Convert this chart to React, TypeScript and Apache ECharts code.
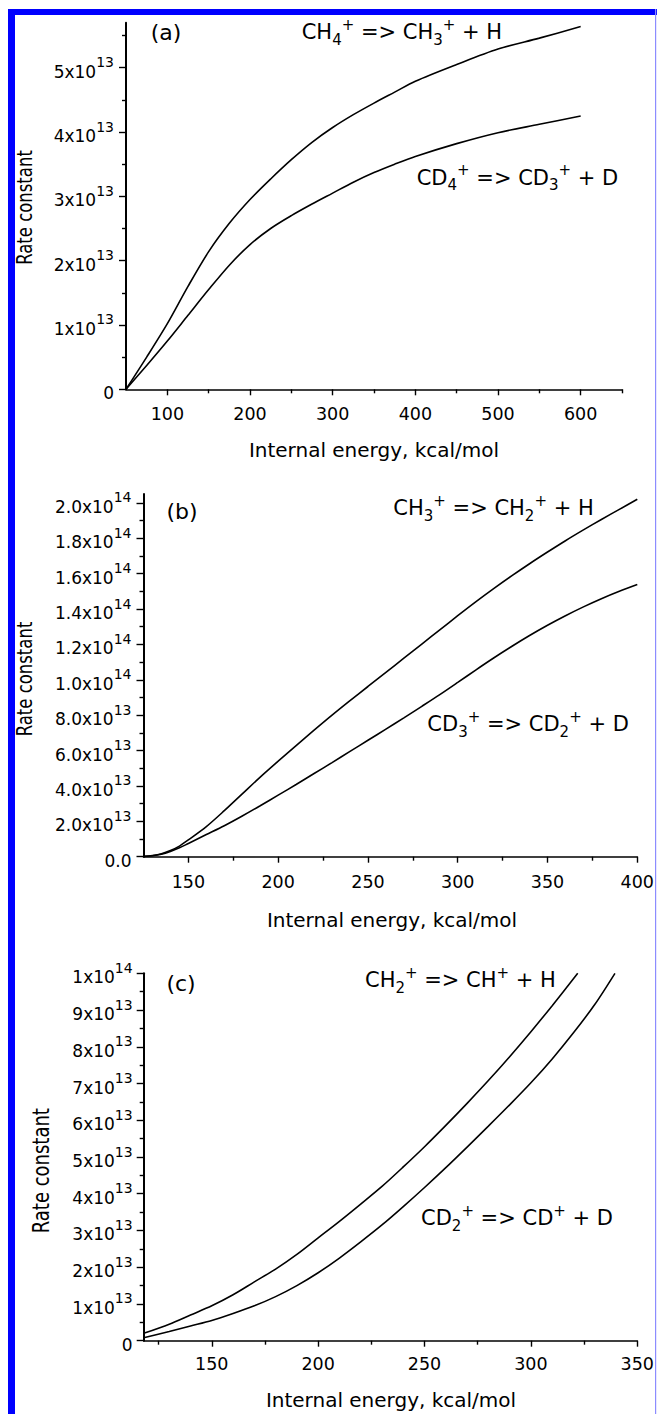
import React, { useEffect, useRef } from 'react';
import * as echarts from 'echarts';

// ---------- Panel (a) ----------
const energyA = [50, 75, 100, 125, 150, 175, 200, 225, 250, 275, 300, 325, 350, 375, 400, 450, 500, 550, 600];
const rateCH4 = [0, 0.5e13, 1.02e13, 1.6e13, 2.14e13, 2.58e13, 2.95e13, 3.27e13, 3.57e13, 3.84e13, 4.07e13, 4.27e13, 4.45e13, 4.62e13, 4.79e13, 5.05e13, 5.29e13, 5.46e13, 5.64e13];
const rateCD4 = [0, 0.37e13, 0.75e13, 1.15e13, 1.55e13, 1.93e13, 2.25e13, 2.5e13, 2.7e13, 2.88e13, 3.05e13, 3.22e13, 3.37e13, 3.5e13, 3.62e13, 3.82e13, 3.99e13, 4.12e13, 4.25e13];
const xTicksA = [100, 200, 300, 400, 500, 600];
const xMinorA = [150, 250, 350, 450, 550, 650];
const yTicksA = [0, 1e13, 2e13, 3e13, 4e13, 5e13];
const yLabelsA = ['0', '1x10^13', '2x10^13', '3x10^13', '4x10^13', '5x10^13'];
const yMinorA = [0.5e13, 1.5e13, 2.5e13, 3.5e13, 4.5e13, 5.5e13];

// ---------- Panel (b) ----------
const energyB = [125, 130, 135, 140, 145, 150, 160, 170, 180, 190, 200, 210, 220, 230, 240, 250, 260, 270, 280, 290, 300, 310, 320, 330, 340, 350, 360, 370, 380, 390, 400];
const rateCH3 = [0.02e13, 0.07e13, 0.17e13, 0.35e13, 0.6e13, 0.95e13, 1.7e13, 2.6e13, 3.55e13, 4.5e13, 5.4e13, 6.28e13, 7.15e13, 8.0e13, 8.82e13, 9.62e13, 10.42e13, 11.22e13, 12.02e13, 12.82e13, 13.62e13, 14.4e13, 15.15e13, 15.87e13, 16.56e13, 17.22e13, 17.86e13, 18.47e13, 19.06e13, 19.63e13, 20.2e13];
const rateCD3 = [0.01e13, 0.05e13, 0.14e13, 0.3e13, 0.5e13, 0.75e13, 1.25e13, 1.75e13, 2.3e13, 2.88e13, 3.48e13, 4.08e13, 4.7e13, 5.32e13, 5.95e13, 6.58e13, 7.21e13, 7.85e13, 8.5e13, 9.16e13, 9.85e13, 10.55e13, 11.23e13, 11.88e13, 12.5e13, 13.08e13, 13.62e13, 14.12e13, 14.58e13, 15.0e13, 15.38e13];
const xTicksB = [150, 200, 250, 300, 350, 400];
const xMinorB = [175, 225, 275, 325, 375];
const yTicksB = [0, 2e13, 4e13, 6e13, 8e13, 1.0e14, 1.2e14, 1.4e14, 1.6e14, 1.8e14, 2.0e14];
const yLabelsB = ['0.0', '2.0x10^13', '4.0x10^13', '6.0x10^13', '8.0x10^13', '1.0x10^14', '1.2x10^14', '1.4x10^14', '1.6x10^14', '1.8x10^14', '2.0x10^14'];
const yMinorB = [1e13, 3e13, 5e13, 7e13, 9e13, 1.1e14, 1.3e14, 1.5e14, 1.7e14, 1.9e14];

// ---------- Panel (c) ----------
const energyC1 = [118, 130, 140, 150, 160, 170, 180, 190, 200, 210, 220, 230, 240, 250, 260, 270, 280, 290, 300, 310, 322];
const rateCH2 = [0.2e13, 0.45e13, 0.7e13, 0.95e13, 1.25e13, 1.6e13, 1.95e13, 2.35e13, 2.8e13, 3.25e13, 3.72e13, 4.2e13, 4.73e13, 5.28e13, 5.86e13, 6.46e13, 7.08e13, 7.73e13, 8.41e13, 9.12e13, 10.0e13];
const energyC2 = [118, 130, 140, 150, 160, 170, 180, 190, 200, 210, 220, 230, 240, 250, 260, 270, 280, 290, 300, 310, 320, 330, 339.5];
const rateCD2 = [0.08e13, 0.25e13, 0.4e13, 0.55e13, 0.74e13, 0.95e13, 1.2e13, 1.5e13, 1.85e13, 2.25e13, 2.69e13, 3.15e13, 3.65e13, 4.17e13, 4.71e13, 5.27e13, 5.84e13, 6.42e13, 7.02e13, 7.67e13, 8.38e13, 9.15e13, 10.0e13];
const xTicksC = [150, 200, 250, 300, 350];
const xMinorC = [125, 175, 225, 275, 325];
const yTicksC = [0, 1e13, 2e13, 3e13, 4e13, 5e13, 6e13, 7e13, 8e13, 9e13, 1e14];
const yLabelsC = ['0', '1x10^13', '2x10^13', '3x10^13', '4x10^13', '5x10^13', '6x10^13', '7x10^13', '8x10^13', '9x10^13', '1x10^14'];
const yMinorC = [0.5e13, 1.5e13, 2.5e13, 3.5e13, 4.5e13, 5.5e13, 6.5e13, 7.5e13, 8.5e13, 9.5e13];

const FONT = '"DejaVu Sans", "Liberation Sans", Arial, sans-serif';
const BLACK = '#000';

function toRich(label: string) {
  const [m, e] = label.split('^');
  return e ? `{m|${m}}{e|${e}}` : `{m|${m}}`;
}

const tickRich = {
  m: { fontSize: 17, fontFamily: FONT, color: BLACK, verticalAlign: 'bottom', lineHeight: 25 },
  e: { fontSize: 14, fontFamily: FONT, color: BLACK, verticalAlign: 'top', lineHeight: 15 },
};

function pairs(xs: number[], ys: number[]) {
  return xs.map((x, i) => [x, ys[i]]);
}

function xAxes(grid: number, min: number, max: number, ticks: number[], minor: number[], margin: number) {
  return [
    {
      type: 'value', gridIndex: grid, min, max, position: 'bottom',
      axisLine: { show: true, onZero: false, lineStyle: { color: BLACK, width: 1.6 } },
      axisTick: { show: true, inside: false, length: 6, customValues: ticks, lineStyle: { color: BLACK, width: 1.4 } },
      axisLabel: { show: true, customValues: ticks, margin, color: BLACK, fontFamily: FONT, fontSize: 17.5, formatter: (v: number) => String(v) },
      splitLine: { show: false },
    },
    {
      type: 'value', gridIndex: grid, min, max, position: 'bottom',
      axisLine: { show: false, onZero: false },
      axisTick: { show: true, inside: false, length: 4, customValues: minor, lineStyle: { color: BLACK, width: 1.4 } },
      axisLabel: { show: false },
      splitLine: { show: false },
    },
  ];
}

function yAxes(grid: number, max: number, ticks: number[], labels: string[], minor: number[], margin: number) {
  return [
    {
      type: 'value', gridIndex: grid, min: 0, max, position: 'left',
      axisLine: { show: true, onZero: false, lineStyle: { color: BLACK, width: 2 } },
      axisTick: { show: true, inside: false, length: 7, customValues: ticks, lineStyle: { color: BLACK, width: 1.4 } },
      axisLabel: {
        show: true, customValues: ticks, margin,
        formatter: (v: number) => {
          const i = ticks.findIndex((t) => Math.abs(t - v) <= Math.abs(t) * 1e-6 + 1);
          return toRich(i >= 0 ? labels[i] : '');
        },
        rich: tickRich,
      },
      splitLine: { show: false },
    },
    {
      type: 'value', gridIndex: grid, min: 0, max, position: 'left',
      axisLine: { show: false, onZero: false },
      axisTick: { show: true, inside: false, length: 4, customValues: minor, lineStyle: { color: BLACK, width: 1.4 } },
      axisLabel: { show: false },
      splitLine: { show: false },
    },
  ];
}

const reactRich = {
  b: { fontSize: 21, fontFamily: FONT, fill: BLACK, verticalAlign: 'middle', lineHeight: 30 },
  sub: { fontSize: 15, fontFamily: FONT, fill: BLACK, verticalAlign: 'bottom', lineHeight: 16 },
  sup: { fontSize: 15, fontFamily: FONT, fill: BLACK, verticalAlign: 'top', lineHeight: 16 },
};

function reaction(x: number, y: number, text: string) {
  return {
    type: 'text', x, y, z: 10,
    style: { text, rich: reactRich, align: 'left', verticalAlign: 'middle', fill: BLACK, fontFamily: FONT, fontSize: 21 },
  };
}

function plainText(x: number, y: number, text: string, fontSize: number, extra: any = {}) {
  return {
    type: 'text', x, y, z: 10, ...extra,
    style: { text, fontSize, fontFamily: FONT, fill: BLACK, align: 'center', verticalAlign: 'middle' },
  };
}

export default function App() {
  const ref = useRef<HTMLDivElement>(null);

  useEffect(() => {
    if (!ref.current) return;
    const chart = echarts.init(ref.current, null, { renderer: 'svg' });

    const lineStyle = { color: BLACK, width: 1.6 };
    const series = [
      { name: 'CH4+', data: pairs(energyA, rateCH4), xAxisIndex: 0, yAxisIndex: 0 },
      { name: 'CD4+', data: pairs(energyA, rateCD4), xAxisIndex: 0, yAxisIndex: 0 },
      { name: 'CH3+', data: pairs(energyB, rateCH3), xAxisIndex: 2, yAxisIndex: 2 },
      { name: 'CD3+', data: pairs(energyB, rateCD3), xAxisIndex: 2, yAxisIndex: 2 },
      { name: 'CH2+', data: pairs(energyC1, rateCH2), xAxisIndex: 4, yAxisIndex: 4 },
      { name: 'CD2+', data: pairs(energyC2, rateCD2), xAxisIndex: 4, yAxisIndex: 4 },
    ].map((s) => ({
      ...s, type: 'line', showSymbol: false, symbol: 'none', smooth: 0.3,
      lineStyle, itemStyle: { color: BLACK }, clip: true, silent: true,
    }));

    const option: any = {
      animation: false,
      backgroundColor: '#fff',
      grid: [
        { left: 126, top: 22.7, width: 496, height: 366.6 },
        { left: 143.5, top: 494, width: 496.5, height: 362.7 },
        { left: 143.7, top: 973.3, width: 495.2, height: 367.4 },
      ],
      xAxis: [
        ...xAxes(0, 50, 650, xTicksA, xMinorA, 16),
        ...xAxes(1, 125, 400, xTicksB, xMinorB, 16),
        ...xAxes(2, 118, 350, xTicksC, xMinorC, 14),
      ],
      yAxis: [
        ...yAxes(0, 5.7e13, yTicksA, yLabelsA, yMinorA, 12),
        ...yAxes(1, 2.05e14, yTicksB, yLabelsB, yMinorB, 12),
        ...yAxes(2, 1e14, yTicksC, yLabelsC, yMinorC, 11),
      ],
      series,
      graphic: [
        // frame
        { type: 'rect', z: 20, shape: { x: 8, y: 9, width: 649, height: 6 }, style: { fill: '#0000ff' } },
        { type: 'rect', z: 20, shape: { x: 8, y: 9, width: 7, height: 1405 }, style: { fill: '#0000ff' } },
        { type: 'rect', z: 20, shape: { x: 655, y: 9, width: 1.2, height: 1405 }, style: { fill: '#8c8cff' } },
        // panel letters
        plainText(166, 32.5, '(a)', 22),
        plainText(182, 511.7, '(b)', 22),
        plainText(181, 983, '(c)', 22),
        // axis titles
        plainText(374, 450, 'Internal energy, kcal/mol', 20),
        plainText(392, 920, 'Internal energy, kcal/mol', 20),
        plainText(391, 1400, 'Internal energy, kcal/mol', 20),
        plainText(25, 207.5, 'Rate constant', 16.5, { rotation: Math.PI / 2, scaleY: 1.25 }),
        plainText(25, 679, 'Rate constant', 16.5, { rotation: Math.PI / 2, scaleY: 1.25 }),
        plainText(41.7, 1170.7, 'Rate constant', 18, { rotation: Math.PI / 2, scaleY: 1.25 }),
        // reactions
        reaction(301.7, 32, '{b|CH}{sub|4}{sup|+}{b| => CH}{sub|3}{sup|+}{b| + H}'),
        reaction(416.7, 177.5, '{b|CD}{sub|4}{sup|+}{b| => CD}{sub|3}{sup|+}{b| + D}'),
        reaction(393.3, 508, '{b|CH}{sub|3}{sup|+}{b| => CH}{sub|2}{sup|+}{b| + H}'),
        reaction(427.3, 724, '{b|CD}{sub|3}{sup|+}{b| => CD}{sub|2}{sup|+}{b| + D}'),
        reaction(365, 980, '{b|CH}{sub|2}{sup|+}{b| => CH}{sup|+}{b| + H}'),
        reaction(421, 1218, '{b|CD}{sub|2}{sup|+}{b| => CD}{sup|+}{b| + D}'),
      ],
    };

    chart.setOption(option);
    return () => chart.dispose();
  }, []);

  return (
    <div
      ref={ref}
      style={{ position: 'absolute', left: 0, top: 0, width: 657, height: 1414, background: '#fff' }}
    />
  );
}
